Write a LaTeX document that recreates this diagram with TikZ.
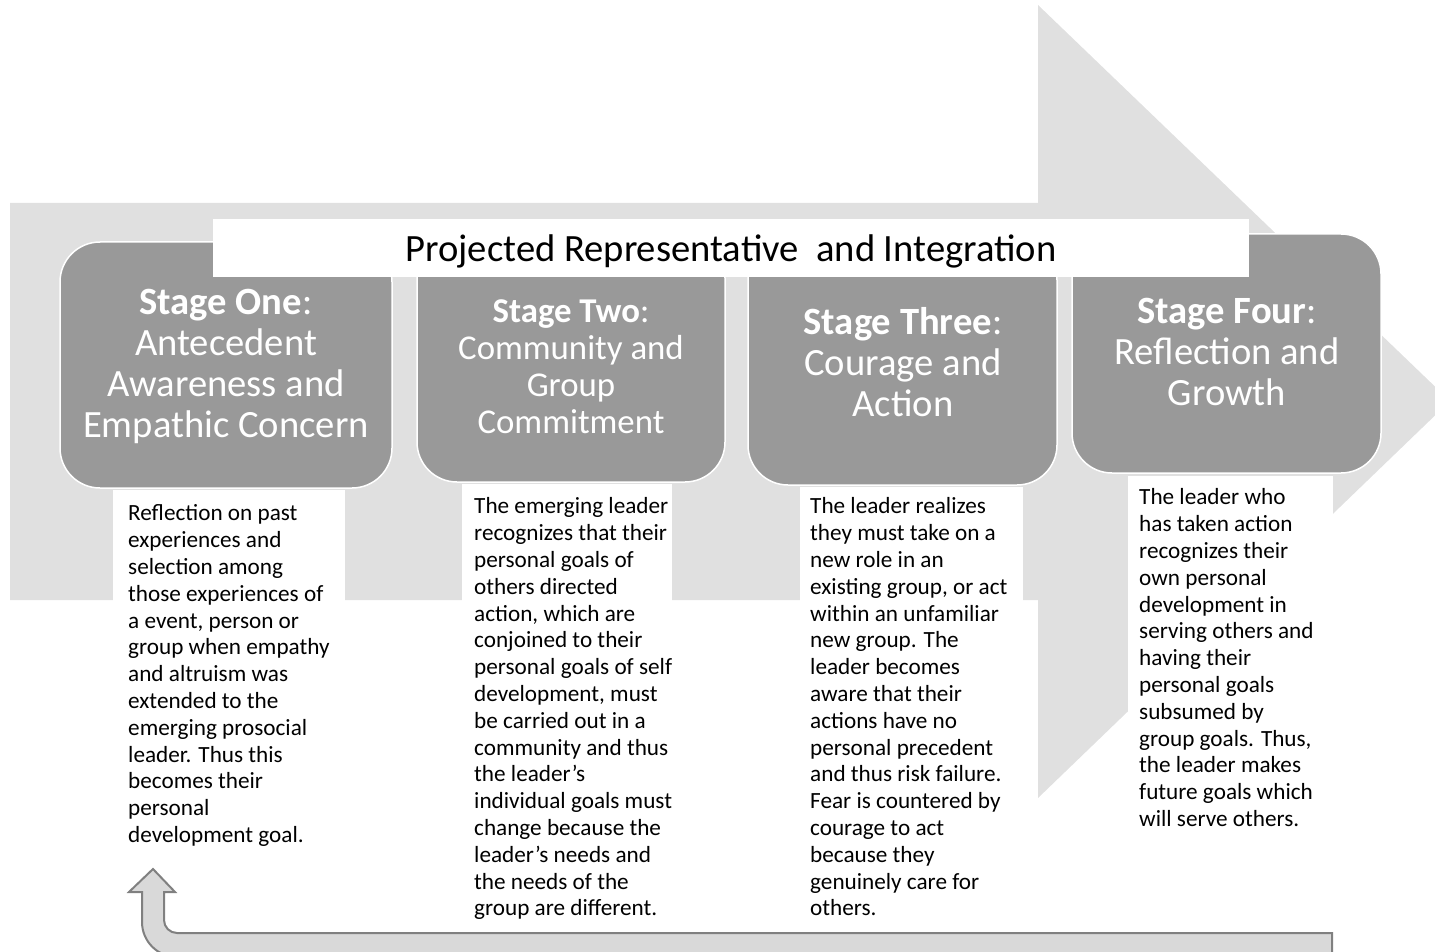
\documentclass[tikz,border=0pt]{standalone}
\usepackage{fontspec}
\setmainfont{Carlito}
\begin{document}
\begin{tikzpicture}[x=1pt,y=-1pt,
  stagebox/.style={draw=white, line width=1.5pt, fill=stagegray, rounded corners=40pt, inner sep=0pt},
  head/.style={text=white, align=center, inner sep=0pt, font=\fontsize{38.6}{41}\selectfont},
  notebox/.style={fill=white, inner sep=0pt, anchor=north west},
  note/.style={align=left, anchor=north west, inner sep=0pt, font=\fontsize{23.2}{26.8}\selectfont},
  loop/.style={fill=loopfill, draw=loopline, line width=2pt, line join=miter}]
\definecolor{bandgray}{RGB}{224,224,224}
\definecolor{stagegray}{RGB}{153,153,153}
\definecolor{loopfill}{RGB}{217,217,217}
\definecolor{loopline}{RGB}{128,128,128}

\useasboundingbox (0,0) rectangle (1435,952);
\clip (0,0) rectangle (1435,952);

% broad process arrow in the background
\fill[bandgray] (10,203) -- (1038,203) -- (1038,5) -- (1450,401)
  -- (1038,798) -- (1038,600) -- (10,600) -- cycle;

% the four stages
\node[stagebox, minimum width=332pt, minimum height=246pt] (s1) at (226,365) {};
\node[stagebox, minimum width=308pt, minimum height=244pt] (s2) at (571,360) {};
\node[stagebox, minimum width=309pt, minimum height=245pt] (s3) at (902.5,362.5) {};
\node[stagebox, minimum width=309pt, minimum height=239pt] (s4) at (1226.5,353.5) {};

\node[head] (h1) at (226,366) {\textbf{Stage One}:\\Antecedent\\Awareness and\\Empathic Concern};
\node[head, font=\fontsize{34.8}{37}\selectfont] (h2) at (571,367) {\textbf{Stage Two}:\\Community and\\Group\\Commitment};
\node[head] (h3) at (903,362) {\textbf{Stage Three}:\\Courage and\\Action};
\node[head] (h4) at (1227,352) {\textbf{Stage Four}:\\Reflection and\\Growth};

% banner across the stages
\node[fill=white, inner sep=0pt, minimum width=1036pt, minimum height=58pt] (title) at (731,248) {};
\node[inner sep=0pt, font=\fontsize{38.6}{40}\selectfont] (tt) at (731,251)
  {Projected Representative\ \ and Integration};

% description panels
\node[notebox, minimum width=232pt, minimum height=370pt] (w1) at (113,490) {};
\node[notebox, minimum width=210pt, minimum height=440pt] (w2) at (462,484) {};
\node[notebox, minimum width=223pt, minimum height=440pt] (w3) at (800,487) {};
\node[notebox, minimum width=205pt, minimum height=360pt] (w4) at (1128,476) {};

\node[note] (t1) at (128,502) {\strut Reflection on past\\experiences and\\selection among\\those experiences of\\a event, person or\\group when empathy\\and altruism was\\extended to the\\emerging prosocial\\leader. Thus this\\becomes their\\personal\\development goal.};
\node[note] (t2) at (474,495) {\strut The emerging leader\\recognizes that their\\personal goals of\\others directed\\action, which are\\conjoined to their\\personal goals of self\\development, must\\be carried out in a\\community and thus\\the leader’s\\individual goals must\\change because the\\leader’s needs and\\the needs of the\\group are different.};
\node[note] (t3) at (810,495) {\strut The leader realizes\\they must take on a\\new role in an\\existing group, or act\\within an unfamiliar\\new group. The\\leader becomes\\aware that their\\actions have no\\personal precedent\\and thus risk failure.\\Fear is countered by\\courage to act\\because they\\genuinely care for\\others.};
\node[note] (t4) at (1139,486) {\strut The leader who\\has taken action\\recognizes their\\own personal\\development in\\serving others and\\having their\\personal goals\\subsumed by\\group goals. Thus,\\the leader makes\\future goals which\\will serve others.};

% return arrow from the last stage back to the first
\coordinate (tip) at (153,869);
\draw[loop] (tip) -- (175,892) -- (164,892) -- (164,920)
  arc[start angle=180, end angle=270, radius=13pt]
  -- (1332,933) -- (1332,957) -- (177,957)
  arc[start angle=270, end angle=180, radius=35pt]
  -- (142,892) -- (129,892) -- cycle;
\end{tikzpicture}
\end{document}
